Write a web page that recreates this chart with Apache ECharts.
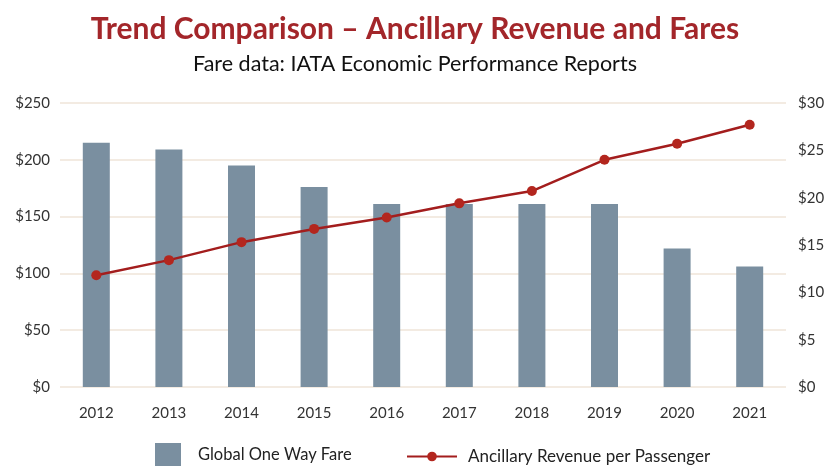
<!DOCTYPE html>
<html>
<head>
<meta charset="utf-8">
<script src="https://cdn.jsdelivr.net/npm/echarts@6/dist/echarts.min.js"></script>
<style>
    html, body { margin: 0; padding: 0; background: #fff; }
    #chart { width: 830px; height: 466px; }
</style>
</head>
<body>
<div id="chart"></div>
<script>
    var years = ['2012', '2013', '2014', '2015', '2016', '2017', '2018', '2019', '2020', '2021'];
    // 票价 (左轴)
    var fareValues = [215, 209, 195, 176, 161, 161, 161, 161, 122, 106];
    // 辅助收入 (右轴)
    var ancillaryValues = [11.8, 13.4, 15.3, 16.7, 17.9, 19.4, 20.7, 24.0, 25.7, 27.7];

    var fontName = 'Lato, "Open Sans", sans-serif';
    var labelColor = '#333';

    var chart = echarts.init(document.getElementById('chart'));
    var option = {
        backgroundColor: '#fff',
        animation: false,
        title: [{
            text: 'Trend Comparison – Ancillary Revenue and Fares',
            left: 'center',
            top: 9,
            textStyle: {
                color: '#a3262a',
                fontFamily: fontName,
                fontSize: 30,
                fontWeight: 'bold'
            }
        }, {
            text: 'Fare data: IATA Economic Performance Reports',
            left: 'center',
            top: 48,
            textStyle: {
                color: '#111',
                fontFamily: fontName,
                fontSize: 21.5,
                fontWeight: 'normal'
            }
        }],
        grid: {
            left: 60,
            right: 44,
            top: 103,
            bottom: 79
        },
        // 图例分两块, 图标大小不同
        legend: [{
            left: 150,
            top: 438,
            itemWidth: 26,
            itemHeight: 24,
            textStyle: {
                color: '#222',
                fontFamily: fontName,
                fontSize: 16.5,
                padding: [0, 0, 0, 12]
            },
            data: [{ name: 'Global One Way Fare', icon: 'rect' }]
        }, {
            left: 401,
            top: 443,
            itemWidth: 50,
            itemHeight: 12,
            textStyle: {
                color: '#222',
                fontFamily: fontName,
                fontSize: 17,
                padding: [0, 0, 0, 6]
            },
            data: [{ name: 'Ancillary Revenue per Passenger' }]
        }],
        xAxis: {
            type: 'category',
            data: years,
            axisLine: { show: false },
            axisTick: { show: false },
            axisLabel: {
                color: labelColor,
                fontFamily: fontName,
                fontSize: 15,
                margin: 19
            }
        },
        yAxis: [{
            type: 'value',
            min: 0,
            max: 250,
            interval: 50,
            axisLine: { show: false },
            axisTick: { show: false },
            axisLabel: {
                color: labelColor,
                fontFamily: fontName,
                fontSize: 15,
                margin: 10,
                formatter: '${value}'
            },
            splitLine: {
                lineStyle: { color: '#efe5d8', width: 1.5 }
            }
        }, {
            type: 'value',
            min: 0,
            max: 30,
            interval: 5,
            axisLine: { show: false },
            axisTick: { show: false },
            axisLabel: {
                color: labelColor,
                fontFamily: fontName,
                fontSize: 15,
                margin: 12,
                formatter: '${value}'
            },
            splitLine: { show: false }
        }],
        series: [{
            name: 'Global One Way Fare',
            type: 'bar',
            yAxisIndex: 0,
            data: fareValues,
            barWidth: 27,
            itemStyle: { color: '#7a8fa0' }
        }, {
            name: 'Ancillary Revenue per Passenger',
            type: 'line',
            yAxisIndex: 1,
            data: ancillaryValues,
            symbol: 'circle',
            symbolSize: 10,
            lineStyle: { color: '#a31d1d', width: 2.5 },
            itemStyle: { color: '#b3261e' }
        }]
    };
    chart.setOption(option);
</script>
</body>
</html>
